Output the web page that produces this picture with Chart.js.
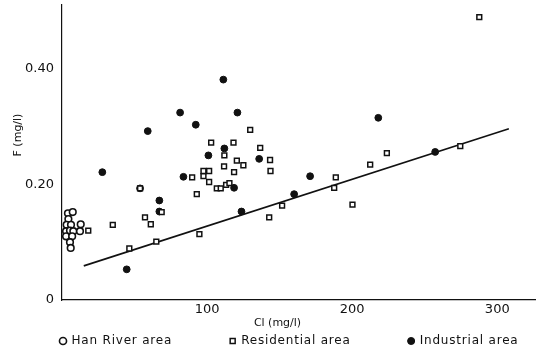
<!DOCTYPE html>
<html>
<head>
<meta charset="utf-8">
<script src="https://cdn.jsdelivr.net/npm/chart.js@4/dist/chart.umd.min.js"></script>
<style>
html,body{margin:0;padding:0;background:#fff;}
#wrap{width:540px;height:352px;}
</style>
</head>
<body>
<div id="wrap"><canvas id="c" width="540" height="352"></canvas></div>
<script>
// Han River area (open circles)
const hanX = [4.1, 7.4, 4.4, 3.2, 6.2, 2.8, 5.5, 7.8, 12.9, 12.4, 2.8, 7.0, 5.5, 6.0];
const hanY = [0.150, 0.152, 0.140, 0.130, 0.130, 0.119, 0.120, 0.119, 0.131, 0.119, 0.110, 0.110, 0.100, 0.090];
// Residential area (open squares)
const resX = [102.8, 118.2, 111.9, 136.6, 129.7, 143.4, 120.5, 125.0, 111.7, 143.7, 118.6, 97.5, 101.4, 97.5, 89.7,
              101.4, 106.7, 109.4, 113.1, 115.4, 53.8, 92.9, 68.7, 57.2, 61.2, 35.0, 151.7, 142.8, 188.7, 212.4,
              187.6, 200.2, 94.7, 287.6, 274.5, 223.9, 46.4, 65.0, 18.1];
const resY = [0.272, 0.272, 0.250, 0.263, 0.294, 0.242, 0.241, 0.233, 0.231, 0.223, 0.221, 0.223, 0.223, 0.214, 0.212,
              0.204, 0.193, 0.193, 0.199, 0.202, 0.193, 0.183, 0.152, 0.143, 0.131, 0.130, 0.163, 0.143, 0.212, 0.234,
              0.194, 0.165, 0.114, 0.489, 0.266, 0.254, 0.089, 0.101, 0.120];
// Industrial area (filled circles)
const indX = [111.2, 81.4, 120.9, 92.2, 59.1, 111.9, 100.9, 135.9, 27.8, 83.7, 118.6, 67.1, 67.1, 123.7, 160.0,
              171.0, 218.0, 257.2, 44.6, 53.8];
const indY = [0.381, 0.324, 0.324, 0.303, 0.292, 0.262, 0.250, 0.244, 0.221, 0.213, 0.194, 0.172, 0.153, 0.153, 0.183,
              0.214, 0.315, 0.256, 0.053, 0.193];
// Regression line
const lineX = [15, 308];
const lineY = [0.059, 0.296];

const seriesNames = ['Han River area', 'Residential area', 'Industrial area'];
const yTickLabels = {0: '0', 0.2: '0.20', 0.4: '0.40'};

const pts = (xs, ys) => xs.map((x, i) => ({x: x, y: ys[i]}));

const FONT = "'DejaVu Sans', sans-serif";
const LEG_PAD = 58;
const LEG_H = 18;
const LEG_SPACING = '0.8px';

// legend: wide horizontal spacing on one row, in a compact box at the bottom
const legendLayout = {
  id: 'legendLayout',
  afterInit(chart) {
    const lg = chart.legend;
    if (!lg || lg._patched) return;
    const fit = lg.fit;
    lg.fit = function (...a) {
      const ctx = this.ctx;
      const prevLS = ctx.letterSpacing;
      ctx.letterSpacing = LEG_SPACING;
      const mw = this.maxWidth;
      this.maxWidth = 5000;
      let r;
      try { r = fit.apply(this, a); } finally { ctx.letterSpacing = prevLS; }
      this.maxWidth = mw;
      this.width = mw;
      this.height = LEG_H;
      return r;
    };
    const drawInner = lg._draw;
    lg._draw = function (...a) {
      const ctx = this.ctx;
      const L = this.left, R = this.right;
      this.left = L - 400; this.right = R + 400;   // keep all items on one row, same centre
      ctx.save();
      ctx.letterSpacing = LEG_SPACING;
      ctx.translate(16, -LEG_PAD + 1);
      try { return drawInner.apply(this, a); } finally { ctx.restore(); this.left = L; this.right = R; }
    };
    lg._patched = true;
  }
};

new Chart(document.getElementById('c'), {
  type: 'scatter',
  data: {
    datasets: [
      {label: seriesNames[0], data: pts(hanX, hanY), pointStyle: 'circle', pointRadius: 3.3,
       borderColor: '#111', backgroundColor: '#fff', borderWidth: 1.6},
      {label: seriesNames[1], data: pts(resX, resY), pointStyle: 'rect', pointRadius: 3.4,
       borderColor: '#111', backgroundColor: '#fff', borderWidth: 1.5},
      {label: seriesNames[2], data: pts(indX, indY), pointStyle: 'circle', pointRadius: 3.4,
       borderColor: '#111', backgroundColor: '#111', borderWidth: 1},
      {label: 'fit', type: 'line', data: pts(lineX, lineY), showLine: true, pointRadius: 0,
       borderColor: '#111', borderWidth: 1.6, fill: false}
    ]
  },
  plugins: [legendLayout],
  options: {
    responsive: false,
    animation: false,
    layout: {autoPadding: false, padding: {top: 5, right: 5, left: 12, bottom: 0}},
    plugins: {
      tooltip: {enabled: false},
      legend: {
        position: 'bottom',
        labels: {
          usePointStyle: true, boxWidth: 5, boxHeight: 5, padding: LEG_PAD,
          color: '#111', font: {family: FONT, size: 12},
          filter: item => item.text !== 'fit'
        }
      }
    },
    scales: {
      x: {
        type: 'linear', min: 0, max: 326,
        grid: {display: false, drawTicks: false},
        border: {display: true, color: '#111', width: 1.2},
        ticks: {stepSize: 100, includeBounds: false, color: '#111', padding: 3,
                font: {family: FONT, size: 13, lineHeight: 1.0},
                callback: v => v === 0 ? '' : String(v)},
        title: {display: true, text: 'Cl (mg/l)            ', color: '#111', font: {family: FONT, size: 11, lineHeight: 1.0}, padding: {top: 0, bottom: 5}},
        afterFit: s => { s.height = 34; s.paddingLeft = 0; s.paddingRight = 0; }
      },
      y: {
        type: 'linear', min: 0, max: 0.51,
        grid: {display: false, drawTicks: false},
        border: {display: true, color: '#111', width: 1.2},
        ticks: {stepSize: 0.2, includeBounds: false, color: '#111', padding: 8,
                font: {family: FONT, size: 13},
                callback: v => yTickLabels[Math.round(v * 10) / 10] ?? ''},
        title: {display: true, text: '          F (mg/l)', color: '#111', font: {family: FONT, size: 11}, padding: {top: 0, bottom: 4}},
        afterFit: s => { s.width = 50; s.paddingTop = 0; s.paddingBottom = 0; }
      }
    }
  }
});
</script>
</body>
</html>
